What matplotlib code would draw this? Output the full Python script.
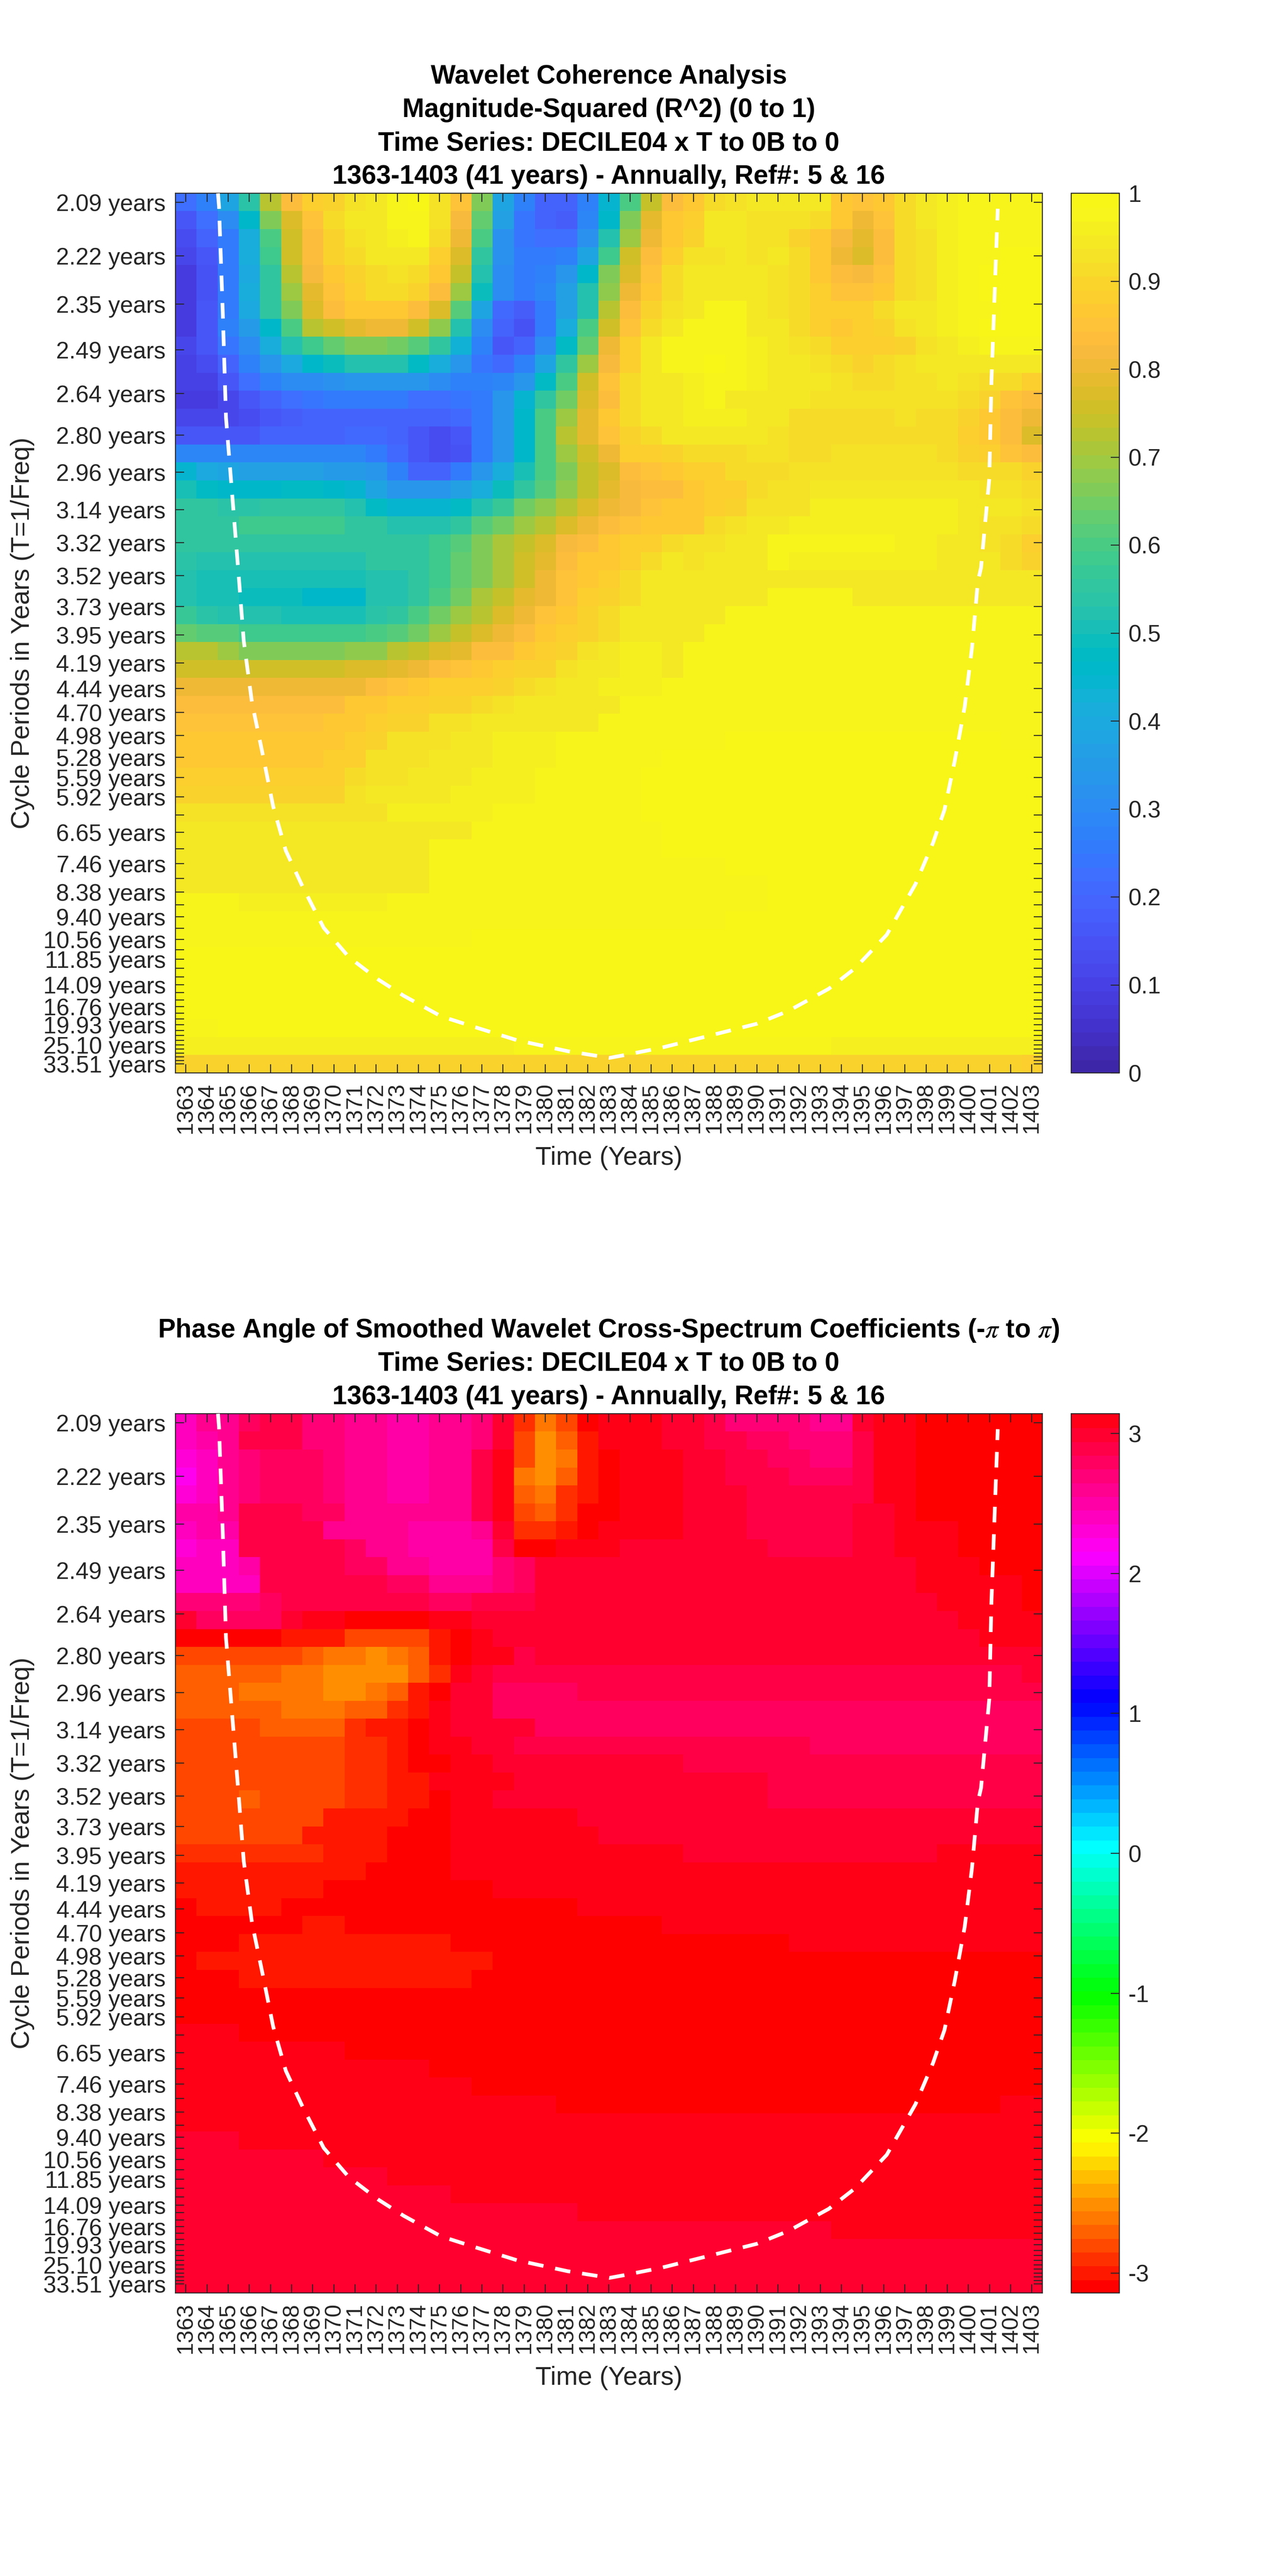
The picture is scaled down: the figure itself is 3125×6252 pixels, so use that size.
import colorsys
import matplotlib
matplotlib.use("Agg")
import matplotlib.pyplot as plt
import numpy as np
from matplotlib.colors import ListedColormap

plt.rcParams['font.family'] = ['Liberation Sans', 'DejaVu Sans']
plt.rcParams['mathtext.fontset'] = 'stix'

years = list(range(1363, 1404))
period_labels = ["2.09","2.22","2.35","2.49","2.64","2.80","2.96","3.14","3.32","3.52","3.73","3.95","4.19",
                 "4.44","4.70","4.98","5.28","5.59","5.92","6.27","6.65","7.05","7.46","7.91","8.38","8.88",
                 "9.40","9.96","10.56","11.19","11.85","12.56","13.30","14.09","14.93","15.82","16.76","17.76",
                 "18.81","19.93","21.12","22.37","23.70","25.10","26.60","28.18","29.86","31.63","33.51"]
hidden_period_labels = ["6.27","7.05","7.91","8.88","9.96","11.19","12.56","13.30","14.93","15.82","17.76",
                        "18.81","21.12","22.37","23.70","26.60","28.18","29.86","31.63"]

titles_top = ["Wavelet Coherence Analysis", "Magnitude-Squared (R^2) (0 to 1)",
              "Time Series: DECILE04 x T to 0B to 0", "1363-1403 (41 years) - Annually, Ref#: 5 & 16"]
titles_bottom = [r"Phase Angle of Smoothed Wavelet Cross-Spectrum Coefficients (-$\pi$ to $\pi$)",
                 "Time Series: DECILE04 x T to 0B to 0", "1363-1403 (41 years) - Annually, Ref#: 5 & 16"]

# cone of influence
coi_years = [1364.52,1364.57,1364.75,1364.90,1365.50,1365.74,1366.13,1366.64,1367.13,1367.73,1368.53,1369.52,1370.71,
             1372.10,1373.30,1375.07,1376.67,1378.66,1381.05,1383.03,1383.70,1385.50,1387.94,1390.00,1391.50,1393.40,
             1394.64,1396.14,1397.50,1398.33,1398.87,1399.35,1399.83,1400.17,1400.45,1400.60,1400.99,1401.09,1401.39]
coi_periods = [2.07,2.10,2.38,2.73,3.52,4.00,4.59,5.24,6.10,7.10,8.20,9.93,11.7,
               13.55,15.3,18.3,20.4,23.7,27.4,30.3,29.1,26.1,22.2,19.7,17.4,14.5,
               12.56,10.3,8.1,6.9,6.17,5.34,4.63,4.06,3.56,3.47,2.99,2.60,2.105]

coherence = [
 [.22,.27,.38,.54,.73,.84,.89,.90,.93,.95,.97,.99,.93,.85,.66,.38,.27,.19,.19,.27,.44,.60,.74,.83,.87,.91,.93,.94,.94,.94,.94,.87,.85,.87,.91,.94,.96,.98,.98,.98,.98],
 [.17,.22,.30,.46,.66,.78,.85,.91,.94,.95,.97,.97,.93,.82,.63,.37,.24,.19,.18,.29,.46,.66,.79,.86,.89,.94,.94,.93,.93,.93,.91,.86,.80,.85,.91,.94,.96,.98,.98,.98,.98],
 [.13,.19,.25,.42,.60,.76,.84,.90,.93,.95,.96,.97,.91,.81,.60,.32,.24,.23,.23,.32,.52,.70,.81,.86,.90,.94,.94,.93,.93,.90,.87,.82,.79,.83,.91,.93,.96,.98,.98,.98,.98],
 [.11,.17,.26,.41,.58,.75,.83,.90,.92,.94,.95,.94,.89,.77,.56,.32,.25,.25,.28,.39,.58,.75,.83,.89,.93,.93,.95,.93,.94,.91,.87,.81,.78,.84,.91,.93,.96,.98,.98,.99,.99],
 [.09,.15,.25,.40,.56,.73,.82,.87,.90,.92,.93,.91,.86,.74,.53,.31,.25,.28,.33,.46,.66,.78,.85,.91,.94,.94,.95,.94,.93,.91,.87,.83,.82,.85,.91,.93,.96,.98,.99,.99,.99],
 [.08,.15,.25,.41,.56,.70,.79,.85,.89,.91,.92,.90,.84,.70,.49,.30,.25,.29,.37,.52,.68,.80,.86,.92,.94,.94,.94,.94,.93,.91,.88,.85,.85,.87,.91,.93,.96,.97,.99,.99,.99],
 [.09,.16,.26,.40,.55,.67,.77,.83,.86,.87,.87,.84,.77,.62,.38,.21,.18,.25,.37,.53,.73,.84,.90,.93,.95,.97,.97,.94,.93,.91,.88,.88,.88,.91,.94,.94,.96,.97,.98,.99,.99],
 [.09,.16,.27,.35,.46,.60,.72,.76,.79,.81,.81,.75,.68,.52,.31,.19,.15,.26,.41,.60,.76,.85,.92,.95,.97,.97,.97,.95,.94,.92,.89,.87,.88,.90,.93,.95,.96,.97,.99,.99,.99],
 [.11,.16,.24,.30,.42,.53,.59,.63,.66,.67,.65,.62,.55,.43,.28,.17,.20,.31,.47,.64,.80,.89,.95,.97,.97,.98,.97,.96,.95,.93,.91,.89,.88,.89,.90,.93,.95,.96,.97,.97,.97],
 [.10,.13,.20,.27,.34,.40,.46,.49,.52,.52,.52,.47,.42,.33,.24,.21,.27,.38,.55,.70,.82,.88,.95,.97,.97,.99,.97,.96,.95,.94,.93,.91,.90,.91,.93,.94,.95,.95,.95,.95,.95],
 [.10,.10,.16,.23,.27,.30,.31,.32,.33,.33,.33,.33,.31,.28,.27,.29,.34,.47,.60,.76,.85,.91,.95,.95,.96,.97,.97,.96,.95,.95,.94,.93,.92,.92,.93,.93,.94,.93,.92,.92,.89],
 [.08,.08,.12,.16,.20,.23,.24,.25,.25,.25,.25,.23,.23,.24,.26,.33,.44,.56,.65,.77,.83,.91,.95,.95,.96,.97,.95,.95,.94,.94,.93,.93,.93,.93,.93,.93,.93,.92,.90,.85,.83],
 [.11,.11,.11,.13,.16,.18,.19,.20,.20,.20,.20,.20,.20,.21,.25,.33,.46,.60,.69,.79,.86,.91,.95,.95,.96,.96,.96,.95,.94,.92,.92,.92,.92,.92,.93,.92,.91,.90,.87,.84,.80],
 [.16,.16,.17,.17,.19,.19,.20,.20,.21,.21,.20,.17,.14,.17,.25,.33,.46,.60,.72,.79,.85,.90,.92,.94,.95,.95,.94,.94,.93,.92,.92,.92,.92,.92,.92,.92,.91,.89,.87,.84,.78],
 [.29,.29,.29,.29,.29,.29,.29,.29,.29,.26,.21,.17,.14,.15,.25,.33,.46,.60,.69,.76,.81,.88,.89,.90,.92,.92,.92,.93,.93,.92,.92,.93,.93,.93,.93,.93,.92,.90,.88,.85,.83],
 [.45,.40,.39,.37,.36,.37,.36,.35,.35,.33,.27,.20,.20,.25,.33,.42,.51,.60,.67,.74,.78,.84,.85,.87,.88,.89,.92,.92,.92,.93,.93,.93,.93,.93,.93,.93,.93,.92,.91,.91,.90],
 [.50,.48,.46,.46,.46,.48,.48,.46,.45,.38,.34,.33,.33,.36,.42,.49,.55,.62,.68,.74,.79,.82,.84,.84,.87,.89,.88,.91,.93,.93,.94,.94,.94,.94,.94,.94,.94,.94,.93,.93,.92],
 [.55,.55,.54,.54,.55,.55,.56,.56,.53,.47,.44,.44,.44,.47,.52,.57,.65,.68,.72,.77,.80,.82,.85,.86,.87,.89,.90,.93,.93,.93,.96,.96,.96,.96,.96,.96,.96,.95,.94,.94,.93],
 [.56,.56,.56,.58,.58,.58,.58,.58,.55,.55,.52,.52,.53,.56,.62,.65,.70,.73,.77,.80,.83,.85,.86,.87,.87,.91,.93,.95,.95,.96,.96,.96,.96,.96,.96,.96,.96,.94,.93,.93,.91],
 [.55,.55,.55,.55,.56,.56,.56,.56,.56,.56,.56,.56,.59,.62,.66,.71,.74,.77,.82,.83,.86,.88,.89,.91,.93,.93,.95,.95,.97,.97,.97,.97,.97,.97,.96,.96,.95,.94,.93,.91,.89],
 [.54,.53,.52,.52,.52,.53,.53,.53,.53,.55,.55,.56,.59,.63,.67,.71,.75,.79,.83,.86,.87,.89,.92,.94,.93,.95,.95,.95,.97,.96,.96,.96,.96,.96,.96,.96,.95,.94,.94,.92,.90],
 [.52,.51,.51,.50,.50,.50,.50,.50,.50,.52,.52,.55,.58,.64,.67,.71,.76,.81,.85,.87,.885,.92,.945,.945,.95,.95,.95,.95,.95]+[.95]*10+[.94]*2,
 [.52,.51,.51,.49,.49,.49,.46,.46,.46,.52,.52,.55,.60,.65,.71,.74,.79,.81,.85,.885,.90,.92,.945,.95,.95,.95,.95,.95,.97]+[.97]*3+[.95]*9,
 [.57,.54,.52,.52,.52,.51,.51,.51,.51,.54,.56,.60,.65,.70,.73,.77,.80,.85,.87,.90,.91,.94,.945,.95,.95,.95,.97,.97,.97]+[.97]*12,
 [.64,.61,.61,.59,.58,.58,.58,.58,.58,.60,.62,.65,.69,.74,.77,.80,.84,.87,.88,.90,.915,.94,.95,.95,.945,.97,.97,.97,.97]+[.97]*12,
 [.72,.72,.69,.67,.66,.66,.66,.66,.68,.68,.72,.74,.78,.79,.83,.84,.86,.88,.90,.925,.945,.955,.955,.95,.97,.97,.97,.97,.97]+[.97]*12,
 [.76,.76,.76,.75,.75,.75,.75,.75,.77,.78,.79,.81,.83,.85,.86,.885,.90,.90,.925,.94,.945,.955,.955,.95,.97,.97,.97,.97,.97]+[.97]*12,
 [.81]*9+[.84,.85,.86,.875,.885,.89,.90,.92,.925,.94,.94,.955,.955,.955,.97,.97,.97,.97,.97,.97]+[.97]*12,
 [.84]*8+[.86,.87,.885,.885,.895,.895,.92,.925,.94,.94,.95,.95,.95,.97,.97,.97,.97,.97,.97,.97,.97]+[.97]*12,
 [.85]*7+[.87]*2+[.875,.895,.895,.925,.925]+[.95]*6+[.97]*21,
 [.86]*4+[.865]*4+[.88,.90,.925,.925,.925,.94,.94,.955,.955,.955]+[.97]*8+[.985]*13+[.97]*2,
 [.87]*7+[.885]*2+[.925]*3+[.94]*3+[.955]*3+[.97]*5+[.985]*18,
 [.875]*2+[.89]*6+[.91]+[.925]*2+[.94]*3+[.955]*3+[.97]*5+[.985]*19,
 [.905]*8+[.925]+[.94]*4+[.955]*4+[.97]*5+[.985]*19,
 [.925]*10+[.955]*5+[.97]*7+[.985]*19,
 [.94]*14+[.97]*9+[.985]*18,
 [.95]*12+[.97]*11+[.985]*18,
 [.95]*12+[.97]*14+[.985]*15,
 [.95]*12+[.97]*16+[.985]*13,
 [.97]*3+[.955]*7+[.97]*18+[.985]*13,
 [.97]*26+[.985]*15,
 [.97]*14+[.985]*27,
 [.985]*41,
 [.985]*41,
 [.985]*41,
 [.985]*41,
 [.97]*2+[.985]*39,
 [.955]*16+[.97]*15+[.955]*10,
 [.90]*40+[.885],
]

phase = [
 [2.41,2.6,2.6,2.8,2.9,2.9,2.7,2.7,2.6,2.6,2.5,2.5,2.6,2.6,2.7,2.99,-2.9,-2.6,-2.8,-3.09]+[3.09]*3+[2.99]*2+[2.9]+[2.7]*4+[2.6]*2+[2.99]+[3.09]*2+[-3.09]*6,
 [2.41,2.5,2.6,2.9,2.9,2.9,2.7,2.7,2.6,2.6,2.5,2.5,2.6,2.6,2.7,2.99,-2.8,-2.5,-2.7,-2.99]+[3.09]*3+[2.99]*2+[2.9]*2+[2.8]*2+[2.7]*3+[2.9]+[3.09]*2+[-3.09]*6,
 [2.35,2.45,2.6,2.7,2.8,2.8,2.8,2.7,2.6,2.6,2.5,2.5,2.6,2.6,2.9,3.09,-2.8,-2.5,-2.65,-2.99,-3.09]+[3.09]*3+[2.99]*2+[2.9]*2+[2.8]*2+[2.7]*2+[2.9]+[3.09]*2+[-3.09]*6,
 [2.2,2.45,2.6,2.7,2.8,2.8,2.8,2.7,2.6,2.6,2.5,2.5,2.6,2.6,2.9,3.09,-2.65,-2.5,-2.7,-2.99,-3.09]+[3.09]*3+[2.99]*2+[2.9]*3+[2.8]*3+[2.9]+[3.09]*2+[-3.09]*6,
 [2.3,2.45,2.6,2.7,2.8,2.8,2.8,2.7,2.6,2.6,2.5,2.5,2.6,2.6,2.9,3.09,-2.7,-2.6,-2.85,-2.99,-3.09]+[3.09]*3+[2.99]*3+[2.9]*6+[3.09]*2+[-3.09]*6,
 [2.5,2.5,2.6,2.9,2.9,2.9,2.8,2.8,2.6,2.6,2.6,2.6,2.6,2.6,2.85,3.09,-2.75,-2.7,-2.9,-3.09,-3.09]+[3.09]*3+[2.99]*3+[2.9]*5+[2.99]*2+[3.09]+[-3.09]*6,
 [2.45,2.5,2.5,2.85,2.85,2.85,2.85,2.6,2.6,2.6,2.6,2.5,2.5,2.55,2.6,2.99,-2.9,-2.9,-3.0,-3.09,3.05]+[3.09]*3+[2.99]*3+[2.9]*5+[2.99]*2+[3.09]*3+[-3.09]*4,
 [2.35,2.45,2.45,2.85,2.85,2.85,2.85,2.85,2.75,2.6,2.6,2.5,2.5,2.5,2.5,2.9,-3.09,-3.09,3.09,3.09,3.09]+[2.99]*7+[2.9]*4+[2.99]*2+[3.09]*3+[-3.09]*4,
 [2.4,2.45,2.45,2.5,2.85,2.85,2.85,2.85,2.75,2.75,2.65,2.65,2.55,2.55,2.55,2.7,2.8]+[2.99]*18+[3.09]*3+[-3.09]*3,
 [2.4,2.4,2.4,2.45,2.85,2.85,2.9,2.85,2.85,2.85,2.75,2.75,2.6,2.6,2.6,2.7,2.8]+[2.99]*18+[3.09]*5+[-3.09],
 [2.7]*4+[2.8]+[2.9]*7+[2.8]*2+[2.85]*2+[2.9]+[2.99]*19+[3.09]*4+[-3.09],
 [2.99,2.8,2.8,2.8,2.8,2.99,3.09,3.09,-3.09,-3.09,-3.09,-3.09,3.09,3.09]+[2.99]*23+[3.09]*4,
 [-3.09]*5+[-3.03]*2+[-2.97]+[-2.8]*4+[-2.99,-3.09,3.09]+[2.99]*23+[3.09]*3,
 [-2.8]*6+[-2.7,-2.6,-2.6,-2.5,-2.58,-2.72,-2.99,-3.09,3.09,3.09,2.9]+[2.99]*24,
 [-2.7]*5+[-2.6]*2+[-2.5]*4+[-2.7,-2.9,3.09,2.99]+[2.9]*25+[2.99],
 [-2.7,-2.7,-2.7,-2.65,-2.65,-2.65,-2.65,-2.52,-2.52,-2.6,-2.72,-2.97,-3.09,2.99,2.95]+[2.8]*4+[2.9]*22,
 [-2.7]*5+[-2.65]*3+[-2.7]*2+[-2.88,-2.99,3.09,2.99,2.99]+[2.8]*26,
 [-2.8]*4+[-2.7]*4+[-2.85,-2.97,-2.97,-3.09,3.09,2.99,2.99,2.99,2.99]+[2.8]*24,
 [-2.8]*8+[-2.93]*2+[-3.03,-3.09,3.09,3.09,2.99,2.99]+[2.9]*14+[2.8]*11,
 [-2.8]*8+[-2.93]*2+[-3.03,-3.09,-3.09,3.09,3.09]+[2.99]*9+[2.9]*17,
 [-2.8]*8+[-2.93]*2+[-2.99]*2+[3.09]*4+[2.99]*12+[2.9]*13,
 [-2.8]*3+[-2.7]+[-2.8]*4+[-2.93]*2+[-2.99]*2+[-3.09,3.09,3.09]+[2.99]*13+[2.9]*13,
 [-2.8]*7+[-2.97]*2+[-3.03]*2+[-3.09]*2+[3.09]*6+[2.99]*22,
 [-2.8]*6+[-2.97]*2+[-3.03]*2+[-3.09]*3+[3.09]*7+[2.99]*21,
 [-2.9]*7+[-2.99]*3+[-3.09]*3+[3.09]*11+[2.99]*12+[3.09]*5,
 [-2.99]*9+[-3.09]*4+[3.09]*28,
 [-2.99]*7+[-3.09]*8+[3.09]*26,
 [-3.09]+[-2.99]*4+[-3.09]*14+[3.09]*22,
 [-3.09]*6+[-3.03]*2+[-3.09]*15+[3.09]*18,
 [-3.09]*3+[-2.99]*10+[-3.09]*16+[3.09]*12,
 [-3.09]+[-2.99]*14+[-3.09]*26,
 [-3.09]*3+[-2.99]*11+[-3.09]*27,
 [-3.09]*41,
 [-3.09]*41,
 [3.09]*3+[-3.09]*38,
 [3.09]*8+[-3.09]*33,
 [3.09]*12+[-3.09]*29,
 [3.09]*14+[-3.09]*27,
 [3.09]*18+[-3.09]*21+[3.09]*2,
 [3.09]*41,
 [2.99]*3+[3.09]*38,
 [2.99]*7+[3.09]*34,
 [2.99]*10+[3.09]*31,
 [2.99]*13+[3.09]*28,
 [2.99]*19+[3.09]*22,
 [2.99]*31+[3.09]*10,
 [2.99]*41,
 [2.99]*41,
 [2.99]*41,
]

parula_rgb = [
 (0.2422,0.1504,0.6603),(0.2504,0.1650,0.7076),(0.2578,0.1818,0.7511),(0.2647,0.1978,0.7952),
 (0.2706,0.2147,0.8364),(0.2751,0.2342,0.8710),(0.2783,0.2559,0.8991),(0.2803,0.2782,0.9221),
 (0.2813,0.3006,0.9414),(0.2810,0.3228,0.9579),(0.2795,0.3447,0.9717),(0.2760,0.3667,0.9829),
 (0.2699,0.3892,0.9906),(0.2602,0.4123,0.9952),(0.2440,0.4358,0.9988),(0.2206,0.4603,0.9973),
 (0.1963,0.4847,0.9892),(0.1834,0.5074,0.9798),(0.1786,0.5289,0.9682),(0.1764,0.5499,0.9520),
 (0.1687,0.5703,0.9359),(0.1540,0.5902,0.9218),(0.1460,0.6091,0.9079),(0.1380,0.6276,0.8973),
 (0.1248,0.6459,0.8883),(0.1113,0.6635,0.8763),(0.0952,0.6798,0.8598),(0.0689,0.6948,0.8394),
 (0.0297,0.7082,0.8163),(0.0036,0.7203,0.7917),(0.0067,0.7312,0.7660),(0.0433,0.7411,0.7394),
 (0.0964,0.7500,0.7120),(0.1408,0.7584,0.6842),(0.1717,0.7670,0.6554),(0.1938,0.7758,0.6251),
 (0.2161,0.7843,0.5923),(0.2470,0.7918,0.5567),(0.2906,0.7973,0.5188),(0.3406,0.8008,0.4789),
 (0.3909,0.8029,0.4354),(0.4456,0.8024,0.3909),(0.5044,0.7993,0.3480),(0.5616,0.7942,0.3045),
 (0.6174,0.7876,0.2612),(0.6720,0.7793,0.2227),(0.7242,0.7698,0.1910),(0.7738,0.7598,0.1646),
 (0.8203,0.7498,0.1535),(0.8634,0.7406,0.1596),(0.9035,0.7330,0.1774),(0.9393,0.7288,0.2100),
 (0.9728,0.7298,0.2394),(0.9956,0.7434,0.2371),(0.9970,0.7659,0.2199),(0.9952,0.7861,0.1990),
 (0.9892,0.8086,0.1818),(0.9786,0.8310,0.1700),(0.9676,0.8639,0.1643),(0.9610,0.8890,0.1537),
 (0.9597,0.9135,0.1423),(0.9628,0.9373,0.1265),(0.9691,0.9606,0.1064),(0.9700,0.9650,0.0900),
]
parula = ListedColormap(parula_rgb)
hsv64 = ListedColormap([colorsys.hsv_to_rgb(i / 64, 1, 1) for i in range(64)])

W, H = 3125, 6252
DPI = 100
INK = '#262626'
PT = 72 / DPI


def fit(rows):
    return np.array([(list(r) + [r[-1]] * 41)[:41] for r in rows], dtype=float)


freqs = 1 / np.array([float(p) for p in period_labels])
row_h = (freqs[0] - freqs[-1]) / (len(freqs) - 1)
f_top, f_bot = freqs[0] + row_h / 2, freqs[-1] - row_h / 2
shown_labels = ["" if p in hidden_period_labels else p + " years" for p in period_labels]

fig = plt.figure(figsize=(W / DPI, H / DPI), dpi=DPI, facecolor='white')


def panel(y0, y1, data, cmap, vmin, vmax, cticks, clabels, titles, title_base):
    ax = fig.add_axes([425.5 / W, 1 - y1 / H, (2531 - 425.5) / W, (y1 - y0) / H])
    im = ax.imshow(fit(data), cmap=cmap, vmin=vmin, vmax=vmax, aspect='auto', interpolation='nearest',
                   origin='upper', extent=(years[0] - .5, years[-1] + .5, f_bot, f_top))
    ax.plot(coi_years, 1 / np.array(coi_periods), color='white', lw=9 * PT, dashes=(4.2, 3.2), zorder=3)
    ax.set_xlim(years[0] - .5, years[-1] + .5)
    ax.set_ylim(f_bot, f_top)
    ax.set_xticks(years)
    ax.set_xticklabels([str(y) for y in years], rotation=90, fontsize=40, color=INK)
    ax.set_yticks(freqs)
    ax.set_yticklabels(shown_labels, fontsize=41, color=INK)
    ax.tick_params(axis='both', direction='in', length=21 * PT, width=2.4 * PT, color=INK,
                   top=True, right=True, pad=23 * PT)
    for s in ax.spines.values():
        s.set_linewidth(2.4 * PT)
        s.set_color(INK)
    fig.text(1478 / W, 1 - (y1 + 223) / H, "Time (Years)", fontsize=45.5, color=INK, ha='center', va='baseline')
    fig.text(71 / W, 1 - (y0 + y1) / 2 / H, "Cycle Periods in Years (T=1/Freq)", fontsize=45.5, color=INK,
             rotation=90, ha='center', va='baseline', rotation_mode='anchor')
    for i, t in enumerate(reversed(titles)):
        fig.text(1478 / W, 1 - (title_base - i * 81) / H, t, fontsize=46, fontweight='bold', color='black',
                 ha='center', va='baseline')
    cax = fig.add_axes([2600.5 / W, 1 - y1 / H, (2717.5 - 2600.5) / W, (y1 - y0) / H])
    cb = fig.colorbar(im, cax=cax, ticks=cticks)
    cb.ax.set_yticklabels(clabels, fontsize=41, color=INK)
    cb.ax.tick_params(direction='in', length=21 * PT, width=2.4 * PT, color=INK, pad=22 * PT)
    cb.outline.set_linewidth(2.4 * PT)
    cb.outline.set_edgecolor(INK)
    cb.solids.set_edgecolor('face')


panel(469, 2604, coherence, parula, 0, 1, [i / 10 for i in range(11)],
      ["0", "0.1", "0.2", "0.3", "0.4", "0.5", "0.6", "0.7", "0.8", "0.9", "1"], titles_top, 446)
panel(3431, 5565, phase, hsv64, -np.pi, np.pi, [-3, -2, -1, 0, 1, 2, 3],
      ["-3", "-2", "-1", "0", "1", "2", "3"], titles_bottom, 3408)

fig.savefig("out.png", dpi=DPI, facecolor='white')
